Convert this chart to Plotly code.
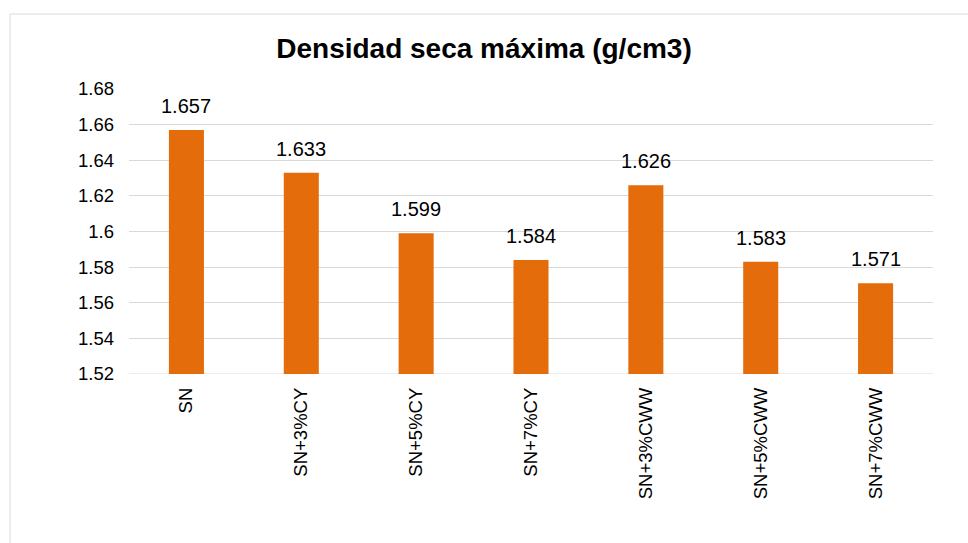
import plotly.graph_objects as go

categories = ["SN", "SN+3%CY", "SN+5%CY", "SN+7%CY", "SN+3%CWW", "SN+5%CWW", "SN+7%CWW"]
values = [1.657, 1.633, 1.599, 1.584, 1.626, 1.583, 1.571]
value_labels = ["1.657", "1.633", "1.599", "1.584", "1.626", "1.583", "1.571"]
y_ticks = [1.52, 1.54, 1.56, 1.58, 1.6, 1.62, 1.64, 1.66, 1.68]
y_tick_labels = ["1.52", "1.54", "1.56", "1.58", "1.6", "1.62", "1.64", "1.66", "1.68"]

FONT = "Liberation Sans, Arial, sans-serif"
ORANGE = "#E46C0A"
GRID = "#D9D9D9"

fig = go.Figure()
fig.add_trace(go.Bar(
    x=categories, y=values, marker=dict(color=ORANGE, line=dict(width=0)),
    width=0.305,
))

for c, v, t in zip(categories, values, value_labels):
    fig.add_annotation(x=c, y=v, text=t, showarrow=False, yanchor="bottom",
                       yshift=11, font=dict(family=FONT, size=20, color="#000000"))

fig.update_layout(
    width=968, height=543,
    margin=dict(l=129, r=35, t=89, b=169),
    paper_bgcolor="white", plot_bgcolor="white",
    showlegend=False,
    title=dict(text="<b>Densidad seca máxima (g/cm3)</b>", x=0.5, xanchor="center",
               y=1 - 48 / 543, yanchor="middle",
               font=dict(family=FONT, size=28, color="#000000")),
    font=dict(family=FONT, color="#000000"),
    xaxis=dict(showgrid=False, showline=False, ticks="", tickangle=-90,
               ticklabelstandoff=9,
               tickfont=dict(family=FONT, size=18.5, color="#000000")),
    yaxis=dict(range=[1.52, 1.68], tickvals=y_ticks, ticktext=y_tick_labels,
               showgrid=True, gridcolor=GRID, gridwidth=1, zeroline=False,
               showline=False, ticks="", ticklabelstandoff=14,
               tickfont=dict(family=FONT, size=18.5, color="#000000")),
    shapes=[dict(type="rect", xref="paper", yref="paper",
                 x0=(10 - 129) / 804, x1=(980 - 129) / 804,
                 y0=(374 - 560) / 285, y1=(374 - 14) / 285,
                 line=dict(color=GRID, width=1), fillcolor="rgba(0,0,0,0)", layer="below")],
)
fig.add_shape(type="line", xref="paper", yref="y", x0=0, x1=1, y0=1.52, y1=1.52,
              line=dict(color=GRID, width=1), layer="below")

fig.write_html("out.html")
